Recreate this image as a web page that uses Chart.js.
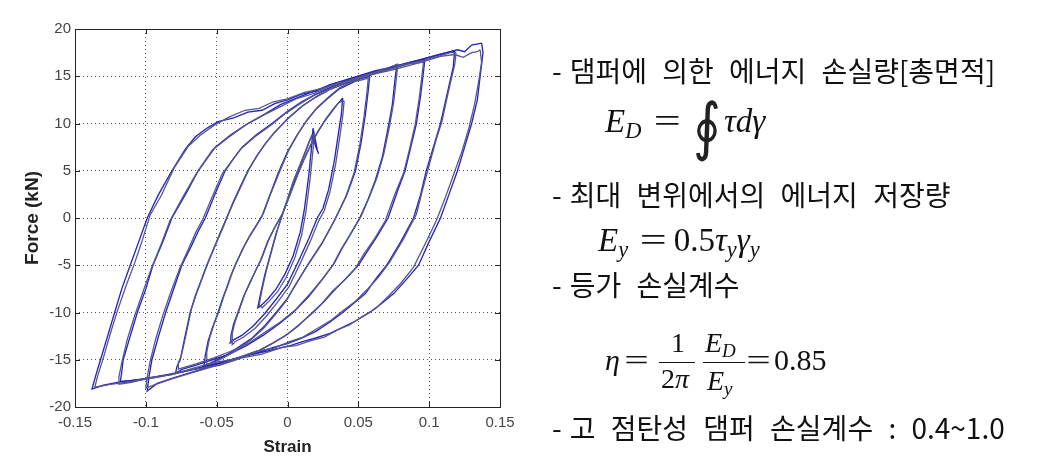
<!DOCTYPE html>
<html><head><meta charset="utf-8">
<script src="https://cdn.jsdelivr.net/npm/chart.js@4/dist/chart.umd.min.js"></script>
<style>
html,body{margin:0;padding:0;background:#fff;width:1039px;height:472px;overflow:hidden;}
#c{position:absolute;left:0;top:0;}
.kr{position:absolute;font-family:"Noto Sans CJK KR";font-size:28px;line-height:28px;color:#111;white-space:nowrap;word-spacing:9px;}
.kr .d{margin-right:8px;}
.m{position:absolute;font-family:"Liberation Serif","DejaVu Serif",serif;color:#111;white-space:nowrap;}
.m i{font-style:italic;}
.m sub{font-size:0.68em;vertical-align:-0.28em;line-height:0;}
.eq{display:inline-block;transform:scaleX(1.45);}
.bar{position:absolute;height:1px;background:#111;}
</style></head><body>
<canvas id="c" width="1039" height="472"></canvas>

<div class="kr" style="left:552px;top:56px;"><span class="d">-</span>댐퍼에 의한 에너지 손실량[총면적]</div>
<div class="m" style="left:605px;top:105px;font-size:33px;line-height:33px;"><i>E</i><sub><i>D</i></sub><span class="eq" style="margin:0 14px 0 17px;">=</span><span style="display:inline-block;font-family:'DejaVu Serif';font-size:1.9em;line-height:0;vertical-align:-0.25em;transform:scaleX(0.85);color:#222;">∮</span><i>τdγ</i></div>
<div class="kr" style="left:552px;top:180px;"><span class="d">-</span>최대 변위에서의 에너지 저장량</div>
<div class="m" style="left:598px;top:224px;font-size:33px;line-height:33px;"><i>E</i><sub><i>y</i></sub><span class="eq" style="margin:0 11px 0 16px;">=</span>0.5<i>τ</i><sub><i>y</i></sub><i>γ</i><sub><i>y</i></sub></div>
<div class="kr" style="left:552px;top:270px;"><span class="d">-</span>등가 손실계수</div>
<div class="m" style="left:605px;top:345px;font-size:30px;line-height:30px;"><i>η</i><span class="eq" style="margin-left:8px;">=</span></div>
<div class="m" style="left:671px;top:329px;font-size:28px;line-height:28px;">1</div>
<div class="bar" style="left:659px;top:362px;width:36px;"></div>
<div class="m" style="left:661px;top:365px;font-size:28px;line-height:28px;">2<i>π</i></div>
<div class="m" style="left:705px;top:329px;font-size:28px;line-height:28px;"><i>E</i><sub><i>D</i></sub></div>
<div class="bar" style="left:703px;top:362px;width:42px;"></div>
<div class="m" style="left:707px;top:367px;font-size:28px;line-height:28px;"><i>E</i><sub><i>y</i></sub></div>
<div class="m" style="left:750px;top:345px;font-size:30px;line-height:30px;"><span class="eq">=</span><span style="margin-left:7px;">0.85</span></div>
<div class="kr" style="left:552px;top:413px;"><span class="d">-</span>고 점탄성 댐퍼 손실계수 : 0.4~1.0</div>

<script>
// ---- tick labels ----
const xTickLabels = ["-0.15","-0.1","-0.05","0","0.05","0.1","0.15"];
const yTickLabels = ["-20","-15","-10","-5","0","5","10","15","20"];

// ---- hysteresis loops (strain, force kN); two cycles per amplitude ----
const loop1S = [0.018,0.017,0.015,0.012,0.009,0.004,-0.002,-0.008,-0.014,-0.019,-0.021,-0.019,-0.016,-0.012,-0.008,-0.004,0.000,0.004,0.008,0.012,0.015,0.018,0.020,0.022,0.019,0.021,0.018];
const loop1F = [9.5,7.5,4.5,1.0,-1.5,-4.0,-6.0,-7.5,-8.6,-9.3,-9.5,-8.0,-6.0,-3.8,-1.6,0.2,2.0,3.8,5.3,6.8,8.0,9.0,7.5,6.8,8.0,7.2,9.5];
const loop1bS = [0.019,0.018,0.016,0.013,0.010,0.005,-0.001,-0.007,-0.013,-0.018,-0.020,-0.018,-0.015,-0.011,-0.007,-0.003,0.001,0.005,0.009,0.013,0.016,0.019];
const loop1bF = [9.0,7.2,4.2,0.7,-1.8,-4.3,-6.3,-7.8,-8.8,-9.5,-9.2,-7.6,-5.6,-3.4,-1.2,0.6,2.4,4.2,5.7,7.1,8.3,9.0];

const loop2S = [0.039,0.038,0.036,0.033,0.029,0.025,0.021,0.015,0.008,0.000,-0.008,-0.016,-0.024,-0.032,-0.038,-0.0405,-0.040,-0.038,-0.035,-0.031,-0.027,-0.022,-0.019,-0.014,-0.009,-0.004,0.001,0.006,0.011,0.016,0.021,0.026,0.031,0.035,0.039];
const loop2F = [12.7,11.0,9.0,6.0,3.0,1.0,0.0,-2.2,-4.5,-7.0,-8.6,-10.1,-11.4,-12.4,-12.9,-13.2,-12.5,-11.2,-10.0,-8.3,-7.0,-5.4,-4.5,-2.5,-1.0,0.3,2.2,4.2,6.0,7.6,9.0,10.2,11.2,12.0,12.7];
const loop2bS = [0.040,0.039,0.037,0.034,0.030,0.026,0.022,0.016,0.009,0.001,-0.007,-0.015,-0.023,-0.031,-0.037,-0.039,-0.039,-0.037,-0.034,-0.030,-0.026,-0.021,-0.018,-0.013,-0.008,-0.003,0.002,0.007,0.012,0.017,0.022,0.027,0.032,0.036,0.040];
const loop2bF = [12.4,10.8,8.7,5.7,2.8,0.8,-0.3,-2.5,-4.8,-7.3,-8.9,-10.4,-11.7,-12.6,-13.1,-13.4,-12.2,-11.0,-9.7,-8.0,-6.7,-5.1,-4.2,-2.2,-0.7,0.6,2.5,4.5,6.3,7.9,9.3,10.5,11.5,12.2,12.4];

const loop3S = [0.058,0.057,0.055,0.052,0.048,0.042,0.034,0.025,0.014,0.006,0.000,-0.008,-0.016,-0.025,-0.034,-0.043,-0.051,-0.059,-0.058,-0.056,-0.053,-0.049,-0.046,-0.043,-0.040,-0.037,-0.032,-0.027,-0.022,-0.018,-0.013,-0.0065,0.000,0.006,0.013,0.020,0.028,0.036,0.044,0.051,0.058];
const loop3F = [15.0,13.5,11.0,8.0,5.0,2.5,0.0,-2.5,-5.0,-7.0,-8.5,-10.0,-11.4,-12.7,-13.6,-14.5,-15.1,-15.7,-14.5,-13.0,-11.6,-10.0,-8.6,-7.4,-6.1,-5.0,-3.4,-2.0,-0.8,0.2,2.2,4.8,7.0,8.6,10.2,11.5,12.6,13.6,14.2,14.7,15.0];
const loop3bS = [0.057,0.056,0.054,0.051,0.047,0.041,0.033,0.024,0.013,0.005,-0.001,-0.009,-0.017,-0.026,-0.035,-0.044,-0.052,-0.057,-0.057,-0.055,-0.052,-0.048,-0.045,-0.042,-0.039,-0.036,-0.031,-0.026,-0.021,-0.017,-0.012,-0.005,0.001,0.007,0.014,0.021,0.029,0.037,0.045,0.052,0.057];
const loop3bF = [14.8,13.2,10.7,7.7,4.8,2.2,-0.3,-2.8,-5.3,-7.2,-8.8,-10.3,-11.7,-12.9,-13.9,-14.7,-15.3,-15.5,-14.2,-12.7,-11.3,-9.7,-8.3,-7.1,-5.8,-4.7,-3.1,-1.7,-0.5,0.5,2.5,5.1,7.2,8.8,10.4,11.7,12.8,13.8,14.4,14.6,14.8];

const loop4S = [0.077,0.076,0.074,0.071,0.067,0.062,0.057,0.051,0.044,0.038,0.032,0.024,0.015,0.004,-0.006,-0.017,-0.029,-0.041,-0.053,-0.065,-0.074,-0.079,-0.078,-0.0757,-0.073,-0.0687,-0.065,-0.061,-0.057,-0.052,-0.047,-0.043,-0.038,-0.033,-0.028,-0.022,-0.016,-0.010,0.000,0.010,0.020,0.030,0.040,0.050,0.060,0.070,0.077];
const loop4F = [16.0,14.8,12.0,9.5,6.5,4.0,2.0,0.0,-1.8,-3.3,-5.0,-6.6,-8.3,-10.0,-11.2,-12.4,-13.5,-14.4,-15.0,-15.6,-16.0,-16.4,-15.7,-15.0,-13.0,-10.0,-8.2,-6.6,-5.0,-3.2,-1.4,0.0,1.8,3.4,5.0,6.5,7.8,8.9,10.5,11.8,12.8,13.6,14.2,14.7,15.2,15.7,16.0];
const loop4bS = [0.078,0.077,0.075,0.072,0.068,0.063,0.058,0.052,0.045,0.039,0.033,0.025,0.016,0.005,-0.005,-0.016,-0.028,-0.040,-0.052,-0.064,-0.073,-0.077,-0.077,-0.075,-0.072,-0.068,-0.064,-0.060,-0.056,-0.051,-0.046,-0.042,-0.037,-0.032,-0.027,-0.021,-0.015,-0.009,0.001,0.011,0.021,0.031,0.041,0.051,0.061,0.071,0.078];
const loop4bF = [16.3,15.0,12.3,9.7,6.8,4.2,2.3,0.2,-1.6,-3.1,-4.8,-6.4,-8.0,-9.8,-11.0,-12.1,-13.3,-14.1,-14.8,-15.4,-15.8,-16.0,-15.3,-14.6,-12.6,-9.7,-7.9,-6.3,-4.7,-2.9,-1.2,0.3,2.0,3.6,5.2,6.7,8.0,9.1,10.6,11.9,12.9,13.7,14.3,14.9,15.4,15.9,16.3];

const loop5S = [0.097,0.096,0.094,0.091,0.087,0.083,0.078,0.071,0.063,0.056,0.050,0.042,0.034,0.026,0.018,0.009,0.000,-0.010,-0.020,-0.035,-0.050,-0.065,-0.080,-0.092,-0.099,-0.098,-0.0957,-0.091,-0.086,-0.081,-0.0746,-0.068,-0.063,-0.058,-0.051,-0.044,-0.038,-0.032,-0.022,-0.011,0.000,0.010,0.020,0.030,0.040,0.050,0.062,0.075,0.087,0.097];
const loop5F = [16.8,15.5,13.0,10.0,7.5,5.0,3.0,0.0,-2.0,-3.6,-5.0,-6.3,-7.5,-8.8,-10.0,-11.2,-12.3,-13.2,-14.0,-14.8,-15.5,-16.2,-16.9,-17.5,-18.3,-17.0,-15.0,-12.5,-10.0,-7.8,-5.0,-3.0,-1.4,0.0,2.6,5.0,6.3,7.5,8.8,10.0,11.3,12.3,13.1,13.8,14.4,15.0,15.5,16.0,16.5,16.8];
const loop5bS = [0.096,0.095,0.093,0.090,0.086,0.082,0.076,0.069,0.061,0.054,0.048,0.040,0.032,0.024,0.016,0.007,-0.002,-0.012,-0.022,-0.037,-0.052,-0.066,-0.081,-0.093,-0.100,-0.099,-0.097,-0.093,-0.088,-0.083,-0.076,-0.070,-0.065,-0.060,-0.053,-0.046,-0.039,-0.033,-0.023,-0.012,-0.001,0.009,0.019,0.029,0.039,0.049,0.061,0.074,0.086,0.096];
const loop5bF = [16.5,15.2,12.7,9.8,7.2,4.8,2.6,-0.3,-2.3,-3.8,-5.3,-6.6,-7.7,-9.1,-10.2,-11.5,-12.5,-13.4,-14.2,-15.0,-15.7,-16.3,-17.0,-17.6,-18.0,-16.8,-15.2,-12.8,-10.3,-8.1,-5.3,-3.3,-1.6,-0.2,2.3,4.7,6.1,7.3,8.6,9.8,11.1,12.1,13.0,13.6,14.3,14.8,15.3,15.8,16.3,16.5];

const loop6S = [0.118,0.117,0.114,0.111,0.108,0.104,0.098,0.094,0.089,0.080,0.070,0.062,0.055,0.047,0.039,0.030,0.020,0.010,0.000,-0.010,-0.020,-0.035,-0.050,-0.065,-0.080,-0.100,-0.110,-0.118,-0.117,-0.116,-0.111,-0.106,-0.100,-0.095,-0.088,-0.0816,-0.072,-0.063,-0.051,-0.040,-0.028,-0.016,-0.005,0.008,0.020,0.032,0.045,0.058,0.070,0.082,0.095,0.107,0.118];
const loop6F = [17.7,16.0,14.0,12.0,10.0,8.0,5.0,2.5,0.0,-2.5,-5.0,-6.5,-8.0,-9.0,-10.0,-11.0,-12.0,-12.7,-13.3,-13.7,-14.2,-14.8,-15.4,-16.0,-16.5,-17.0,-17.2,-17.3,-16.3,-15.0,-12.5,-10.0,-7.5,-5.0,-2.5,0.0,2.5,5.0,7.5,8.8,10.0,11.0,12.0,12.8,13.5,14.2,14.8,15.3,15.8,16.3,16.8,17.3,17.7];
const loop6bS = [0.119,0.118,0.115,0.112,0.109,0.105,0.100,0.095,0.091,0.082,0.072,0.064,0.056,0.048,0.040,0.031,0.021,0.011,0.001,-0.010,-0.022,-0.037,-0.052,-0.067,-0.082,-0.098,-0.110,-0.119,-0.119,-0.117,-0.113,-0.108,-0.102,-0.096,-0.089,-0.083,-0.074,-0.064,-0.053,-0.042,-0.030,-0.018,-0.006,0.006,0.019,0.031,0.044,0.057,0.069,0.081,0.094,0.106,0.115,0.119];
const loop6bF = [17.5,16.2,14.3,12.3,10.2,8.3,5.6,2.8,0.4,-2.2,-4.7,-6.3,-7.6,-8.8,-9.7,-10.8,-11.7,-12.6,-13.1,-13.8,-14.1,-14.9,-15.3,-15.9,-16.6,-16.9,-17.4,-17.6,-16.8,-15.3,-12.8,-10.4,-7.8,-5.3,-2.7,-0.3,2.2,4.8,7.2,8.5,9.8,10.8,11.7,12.6,13.2,14.0,14.6,15.2,15.6,16.2,16.6,17.1,17.5,17.5];

const loop7S = [0.137,0.138,0.136,0.134,0.130,0.125,0.120,0.114,0.108,0.100,0.0925,0.084,0.075,0.066,0.058,0.048,0.040,0.030,0.020,0.010,0.002,-0.015,-0.030,-0.050,-0.075,-0.100,-0.120,-0.130,-0.138,-0.135,-0.132,-0.127,-0.122,-0.117,-0.111,-0.105,-0.099,-0.091,-0.0816,-0.072,-0.065,-0.057,-0.049,-0.038,-0.028,-0.018,-0.009,0.000,0.010,0.020,0.030,0.040,0.050,0.062,0.075,0.088,0.100,0.110,0.120,0.125,0.130,0.137];
const loop7F = [18.5,17.5,15.0,12.5,10.0,7.5,5.0,2.5,0.0,-2.5,-5.0,-6.5,-8.0,-9.1,-10.0,-10.9,-11.5,-12.2,-12.7,-13.1,-13.5,-14.1,-14.6,-15.4,-16.3,-17.0,-17.4,-17.7,-18.1,-16.5,-15.0,-12.5,-10.0,-7.5,-5.0,-2.5,0.0,2.5,5.0,7.3,8.6,9.5,10.2,10.6,11.2,11.4,12.1,12.5,13.1,13.4,14.1,14.5,15.0,15.6,16.0,16.5,17.0,17.4,17.8,17.6,18.3,18.5];
const loop7bS = [0.136,0.137,0.135,0.132,0.128,0.123,0.117,0.111,0.105,0.097,0.089,0.080,0.071,0.062,0.053,0.044,0.036,0.026,0.016,0.006,-0.004,-0.018,-0.032,-0.048,-0.070,-0.090,-0.110,-0.125,-0.136,-0.134,-0.130,-0.125,-0.120,-0.114,-0.108,-0.103,-0.097,-0.089,-0.080,-0.070,-0.062,-0.052,-0.041,-0.030,-0.020,-0.010,0.000,0.012,0.024,0.036,0.048,0.060,0.072,0.085,0.097,0.108,0.118,0.124,0.130,0.134,0.136];
const loop7bF = [17.8,16.5,14.5,12.0,9.5,7.0,4.5,2.0,-0.3,-2.8,-5.2,-6.9,-8.3,-9.6,-10.4,-11.3,-11.8,-12.6,-13.0,-13.5,-13.7,-14.4,-14.8,-15.6,-16.1,-16.8,-17.3,-17.6,-17.9,-16.7,-14.8,-12.2,-9.8,-7.2,-4.8,-2.6,0.3,2.4,5.3,7.6,8.7,9.8,10.7,11.4,11.6,12.3,12.6,13.3,13.7,14.3,14.6,15.2,15.6,16.1,16.6,17.1,17.3,17.0,17.5,17.6,17.8];

const cycle1 = [[loop1S,loop1F],[loop2S,loop2F],[loop3S,loop3F],[loop4S,loop4F],[loop5S,loop5F],[loop6S,loop6F],[loop7S,loop7F]];
const cycle2 = [[loop1bS,loop1bF],[loop2bS,loop2bF],[loop3bS,loop3bF],[loop4bS,loop4bF],[loop5bS,loop5bF],[loop6bS,loop6bF],[loop7bS,loop7bF]];

const mk = (pairs, color, width) => pairs.map(([s,f])=>({
  data: s.map((v,i)=>({x:v,y:f[i]})),
  showLine:true, pointRadius:0, borderColor:color, borderWidth:width, fill:false, tension:0
}));
const datasets = [...mk(cycle2, "#56568e", 1.3), ...mk(cycle1, "#2424c4", 1.35)];

const framePlugin = {
  id:'frame',
  afterDraw(chart){
    const {ctx, chartArea:a, scales} = chart;
    ctx.save();
    ctx.strokeStyle = '#222'; ctx.lineWidth = 1;
    ctx.strokeRect(Math.round(a.left)+0.5, Math.round(a.top)+0.5, Math.round(a.right-a.left), Math.round(a.bottom-a.top));
    ctx.beginPath();
    scales.x.ticks.forEach(t=>{ const p=Math.round(scales.x.getPixelForValue(t.value))+0.5;
      ctx.moveTo(p,a.bottom); ctx.lineTo(p,a.bottom-5); ctx.moveTo(p,a.top); ctx.lineTo(p,a.top+5);});
    scales.y.ticks.forEach(t=>{ const p=Math.round(scales.y.getPixelForValue(t.value))+0.5;
      ctx.moveTo(a.left,p); ctx.lineTo(a.left+5,p); ctx.moveTo(a.right,p); ctx.lineTo(a.right-5,p);});
    ctx.stroke();
    ctx.restore();
  }
};

new Chart(document.getElementById('c'), {
  type:'scatter',
  data:{datasets},
  options:{
    responsive:false, animation:false, devicePixelRatio:1,
    layout:{padding:{left:0,right:539,top:29,bottom:0}},
    plugins:{legend:{display:false}, tooltip:{enabled:false}},
    scales:{
      x:{type:'linear', min:-0.15, max:0.15,
        afterFit(s){ s.height = 65; },
        ticks:{stepSize:0.05, autoSkip:false, maxRotation:0, padding:7, color:'#444',
          font:{family:'Liberation Sans', size:15},
          callback:(v)=>xTickLabels[Math.round((v+0.15)/0.05)]},
        grid:{color:'#555', lineWidth:1, drawTicks:false},
        border:{display:false, dash:[1,3]},
        title:{display:true, text:'Strain', color:'#222', font:{family:'Liberation Sans', size:17, weight:'bold'}, padding:{top:0,bottom:14}}
      },
      y:{type:'linear', min:-20, max:20,
        afterFit(s){ s.width = 75; },
        ticks:{stepSize:5, autoSkip:false, padding:4, color:'#444',
          font:{family:'Liberation Sans', size:15},
          callback:(v)=>yTickLabels[Math.round((v+20)/5)]},
        grid:{color:'#555', lineWidth:1, drawTicks:false},
        border:{display:false, dash:[1,3]},
        title:{display:true, text:'Force (kN)', color:'#222', font:{family:'Liberation Sans', size:19, weight:'bold'}, padding:{top:21,bottom:0}}
      }
    }
  },
  plugins:[framePlugin]
});
</script>
</body></html>
